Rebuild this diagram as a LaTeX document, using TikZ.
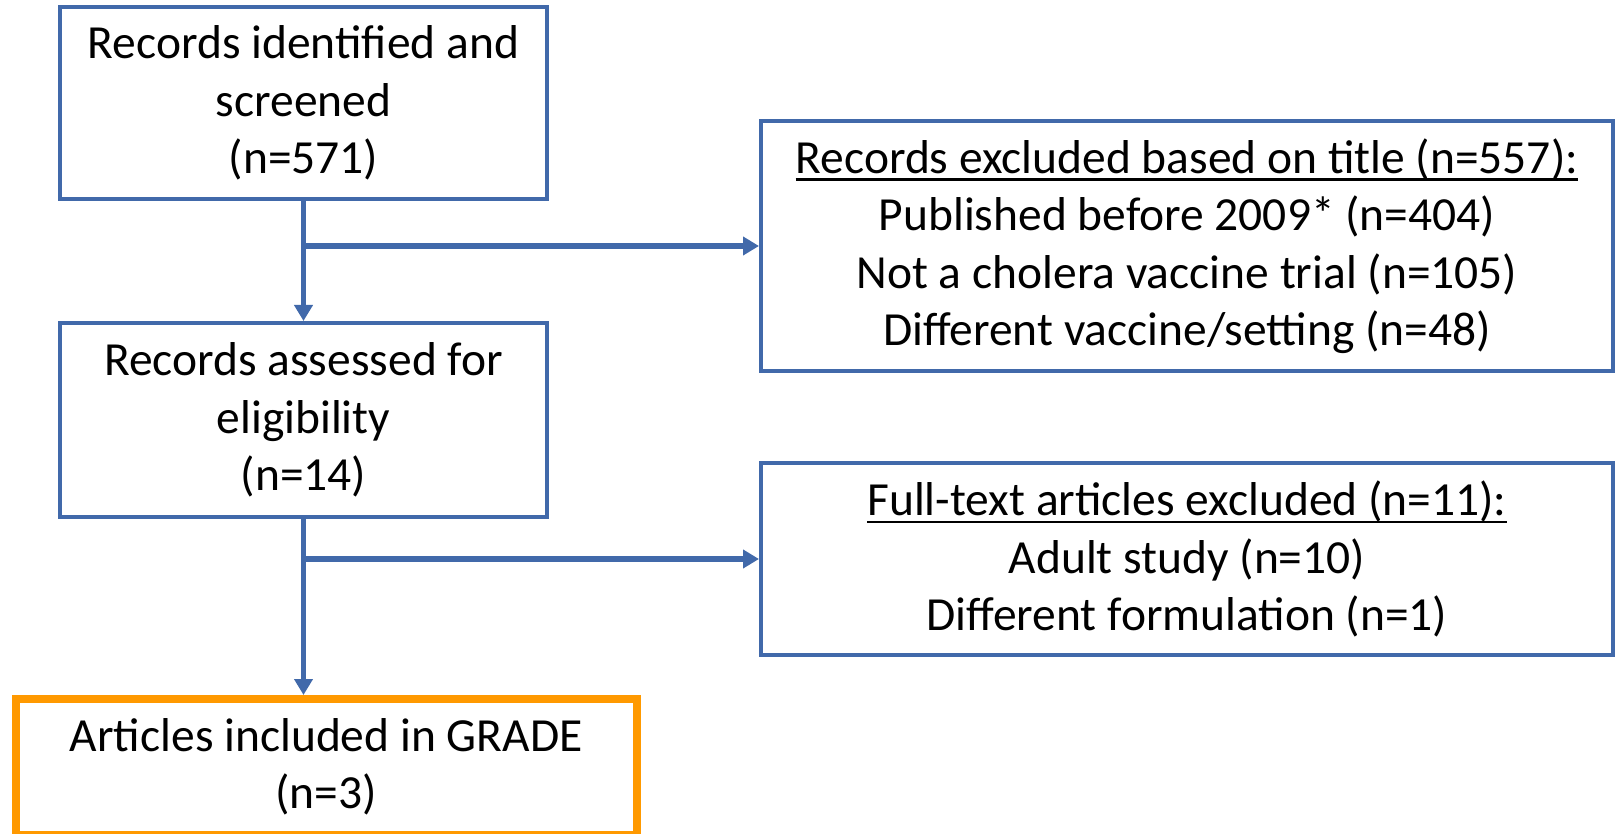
\documentclass[tikz,border=0pt]{standalone}
\usepackage{fontspec}
\setmainfont{Carlito}
\usetikzlibrary{arrows.meta}
\definecolor{boxblue}{RGB}{65,105,170}
\definecolor{boxorange}{RGB}{255,153,0}
\newcommand\myul[1]{\setbox0\hbox{#1}\rlap{\rule[-7.5pt]{\wd0}{2.5pt}}\box0}
\begin{document}
\begin{tikzpicture}[x=1pt,y=-1pt,
  box/.style={draw=boxblue,line width=4pt,rectangle,inner sep=0pt,align=center,
    font=\fontsize{47.5}{57.5}\selectfont},
  finalbox/.style={box,draw=boxorange,line width=8pt},
  conn/.style={draw=boxblue,line width=5.5pt},
  arr/.style={conn,-{Triangle[length=16pt,width=18pt]}}]
\useasboundingbox (0,0) rectangle (1620,834);
\node[box,minimum width=487pt,minimum height=192pt] (b1) at (303.5,103)
  {Records identified and\\screened\\(n=571)};
\node[box,minimum width=487pt,minimum height=194pt] (b2) at (303.5,420)
  {Records assessed for\\eligibility\\(n=14)};
\node[box,minimum width=852pt,minimum height=250pt] (b3) at (1187,246)
  {\myul{Records excluded based on title (n=557):}\\Published before 2009* (n=404)\\Not a cholera vaccine trial (n=105)\\Different vaccine/setting (n=48)};
\node[box,minimum width=852pt,minimum height=192pt] (b4) at (1187,559)
  {\myul{Full-text articles excluded (n=11):}\\Adult study (n=10)\\Different formulation (n=1)};
\node[finalbox,minimum width=620.5pt,minimum height=135.5pt] (b5) at (326.25,766.75)
  {Articles included in GRADE\\(n=3)};
\draw[arr] (b1.south) -- (b2.north);
\draw[arr] (b1.south |- b3.west) -- (b3.west);
\draw[arr] (b2.south) -- (b2.south |- b5.north);
\draw[arr] (b2.south |- b4.west) -- (b4.west);
\end{tikzpicture}
\end{document}
